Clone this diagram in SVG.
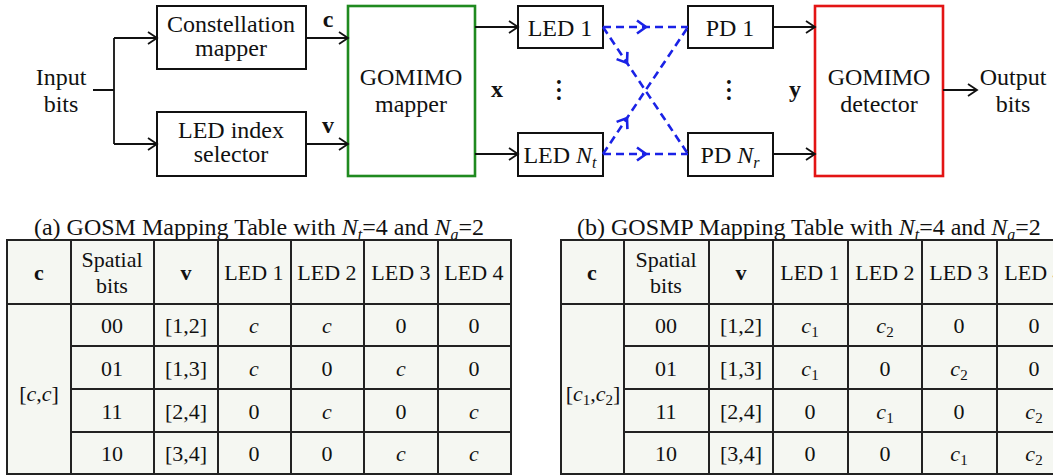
<svg xmlns="http://www.w3.org/2000/svg" width="1053" height="476" viewBox="0 0 1053 476">
<style>
text{fill:#111;}
.t{font-size:24px;text-anchor:middle;}
.tb{font-size:22px;text-anchor:middle;}
.b{font-weight:bold;}
.i{font-style:italic;}
.box{fill:#fff;stroke:#111;stroke-width:2;}
.ln{fill:none;stroke:#111;stroke-width:1.8;}
.arr{fill:none;stroke:#111;stroke-width:1.8;marker-end:url(#ah);}
.bl{fill:none;stroke:#1a22e6;stroke-width:2.6;stroke-dasharray:8 5;marker-mid:url(#bh);}
.tbl{fill:#f5f7f2;stroke:#222;stroke-width:2;}
.gl{fill:none;stroke:#222;stroke-width:2;}
</style>
<defs>
<marker id="ah" markerUnits="userSpaceOnUse" markerWidth="20" markerHeight="20" viewBox="-12 -10 14 20" refX="0" refY="0" orient="auto">
<path d="M-9,-6 L0,0 L-9,6" fill="none" stroke="#111" stroke-width="1.8"/>
</marker>
<marker id="bh" markerUnits="userSpaceOnUse" markerWidth="20" markerHeight="20" viewBox="-12 -10 14 20" refX="0" refY="0" orient="auto">
<path d="M-9,-6.5 L0,0 L-9,6.5" fill="none" stroke="#1a22e6" stroke-width="2.6"/>
</marker>
</defs>

<g id="input"><text style="font-family:'Liberation Serif',serif" class="t" x="61" y="85">Input</text><text style="font-family:'Liberation Serif',serif" class="t" x="61" y="112">bits</text></g>
<g id="constellation"><rect class="box" x="157" y="6" width="149" height="63"/><text style="font-family:'Liberation Serif',serif" class="t" x="231" y="32">Constellation</text><text style="font-family:'Liberation Serif',serif" class="t" x="231" y="56">mapper</text></g>
<g id="selector"><rect class="box" x="157" y="112" width="149" height="64"/><text style="font-family:'Liberation Serif',serif" class="t" x="231" y="138">LED index</text><text style="font-family:'Liberation Serif',serif" class="t" x="231" y="162">selector</text></g>
<g id="mapper"><rect x="348" y="6" width="127" height="170" fill="#fff" stroke="#1f8a1f" stroke-width="2.6"/><text style="font-family:'Liberation Serif',serif" class="t" x="411" y="85">GOMIMO</text><text style="font-family:'Liberation Serif',serif" class="t" x="411" y="112">mapper</text></g>
<g id="led1"><rect class="box" x="518" y="6" width="85" height="42"/><text style="font-family:'Liberation Serif',serif" class="t" x="560" y="36">LED 1</text></g>
<g id="ledNt"><rect class="box" x="518" y="133" width="85" height="43"/><text style="font-family:'Liberation Serif',serif" class="t" x="560" y="163">LED <tspan class="i">N</tspan><tspan class="i" font-size="16" dy="5">t</tspan></text></g>
<g id="pd1"><rect class="box" x="688" y="6" width="85" height="42"/><text style="font-family:'Liberation Serif',serif" class="t" x="730" y="36">PD 1</text></g>
<g id="pdNr"><rect class="box" x="688" y="133" width="85" height="43"/><text style="font-family:'Liberation Serif',serif" class="t" x="730" y="163">PD <tspan class="i">N</tspan><tspan class="i" font-size="16" dy="5">r</tspan></text></g>
<g id="detector"><rect x="815" y="6" width="128" height="170" fill="#fff" stroke="#e31414" stroke-width="2.6"/><text style="font-family:'Liberation Serif',serif" class="t" x="879" y="85">GOMIMO</text><text style="font-family:'Liberation Serif',serif" class="t" x="879" y="112">detector</text></g>
<g id="output"><text style="font-family:'Liberation Serif',serif" class="t" x="1013" y="85">Output</text><text style="font-family:'Liberation Serif',serif" class="t" x="1013" y="112">bits</text></g>

<g id="labels">
<text style="font-family:'Liberation Serif',serif" class="t b" x="328" y="27">c</text>
<text style="font-family:'Liberation Serif',serif" class="t b" x="328" y="133">v</text>
<text style="font-family:'Liberation Serif',serif" class="t b" x="497" y="97">x</text>
<text style="font-family:'Liberation Serif',serif" class="t b" x="795" y="97">y</text>
<text style="font-family:'Liberation Serif',serif" class="t b" transform="translate(557,90) rotate(90)" x="0" y="0">…</text>
<text style="font-family:'Liberation Serif',serif" class="t b" transform="translate(727,90) rotate(90)" x="0" y="0">…</text>
</g>

<g id="connectors">
<path class="ln" d="M93,90 H114 M114,38 V144"/>
<path class="arr" d="M114,38 H157"/>
<path class="arr" d="M114,144 H157"/>
<path class="arr" d="M306,38 H348"/>
<path class="arr" d="M306,144 H348"/>
<path class="arr" d="M475,27 H518"/>
<path class="arr" d="M475,154 H518"/>
<path class="arr" d="M773,27 H815"/>
<path class="arr" d="M773,154 H815"/>
<path class="arr" d="M943,90 H977"/>
<path class="bl" d="M603,27 L646,27 L688,27"/>
<path class="bl" d="M603,154 L646,154 L688,154"/>
<path class="bl" d="M603,27 L627,63 L688,154"/>
<path class="bl" d="M603,154 L627,118 L688,27"/>
</g>

<g id="tableA">
<text style="font-family:'Liberation Serif',serif" class="t" x="259" y="235">(a) GOSM Mapping Table with <tspan class="i">N</tspan><tspan class="i" font-size="16" dy="5">t</tspan><tspan dy="-5">=4 and </tspan><tspan class="i">N</tspan><tspan class="i" font-size="16" dy="5">a</tspan><tspan dy="-5">=2</tspan></text>
<rect class="tbl" x="7" y="240" width="504" height="234"/>
<path class="gl" d="M71,240 V474 M154,240 V474 M218,240 V474 M291,240 V474 M364,240 V474 M438,240 V474 M7,304 H511 M71,346 H511 M71,389 H511 M71,432 H511"/>
<text style="font-family:'Liberation Serif',serif" class="tb b" x="39" y="280">c</text>
<text style="font-family:'Liberation Serif',serif" class="tb" x="112" y="267">Spatial</text><text style="font-family:'Liberation Serif',serif" class="tb" x="112" y="293">bits</text>
<text style="font-family:'Liberation Serif',serif" class="tb b" x="186" y="280">v</text>
<text style="font-family:'Liberation Serif',serif" class="tb" x="254" y="280">LED 1</text><text style="font-family:'Liberation Serif',serif" class="tb" x="327" y="280">LED 2</text><text style="font-family:'Liberation Serif',serif" class="tb" x="401" y="280">LED 3</text><text style="font-family:'Liberation Serif',serif" class="tb" x="474" y="280">LED 4</text>
<text style="font-family:'Liberation Serif',serif" class="tb" x="39" y="401">[<tspan class="i">c</tspan>,<tspan class="i">c</tspan>]</text>
<text style="font-family:'Liberation Serif',serif" class="tb" x="112" y="333">00</text><text style="font-family:'Liberation Serif',serif" class="tb" x="186" y="333">[1,2]</text><text style="font-family:'Liberation Serif',serif" class="tb i" x="254" y="333">c</text><text style="font-family:'Liberation Serif',serif" class="tb i" x="327" y="333">c</text><text style="font-family:'Liberation Serif',serif" class="tb" x="401" y="333">0</text><text style="font-family:'Liberation Serif',serif" class="tb" x="474" y="333">0</text>
<text style="font-family:'Liberation Serif',serif" class="tb" x="112" y="376">01</text><text style="font-family:'Liberation Serif',serif" class="tb" x="186" y="376">[1,3]</text><text style="font-family:'Liberation Serif',serif" class="tb i" x="254" y="376">c</text><text style="font-family:'Liberation Serif',serif" class="tb" x="327" y="376">0</text><text style="font-family:'Liberation Serif',serif" class="tb i" x="401" y="376">c</text><text style="font-family:'Liberation Serif',serif" class="tb" x="474" y="376">0</text>
<text style="font-family:'Liberation Serif',serif" class="tb" x="112" y="419">11</text><text style="font-family:'Liberation Serif',serif" class="tb" x="186" y="419">[2,4]</text><text style="font-family:'Liberation Serif',serif" class="tb" x="254" y="419">0</text><text style="font-family:'Liberation Serif',serif" class="tb i" x="327" y="419">c</text><text style="font-family:'Liberation Serif',serif" class="tb" x="401" y="419">0</text><text style="font-family:'Liberation Serif',serif" class="tb i" x="474" y="419">c</text>
<text style="font-family:'Liberation Serif',serif" class="tb" x="112" y="461">10</text><text style="font-family:'Liberation Serif',serif" class="tb" x="186" y="461">[3,4]</text><text style="font-family:'Liberation Serif',serif" class="tb" x="254" y="461">0</text><text style="font-family:'Liberation Serif',serif" class="tb" x="327" y="461">0</text><text style="font-family:'Liberation Serif',serif" class="tb i" x="401" y="461">c</text><text style="font-family:'Liberation Serif',serif" class="tb i" x="474" y="461">c</text>
</g>

<g id="tableB">
<text style="font-family:'Liberation Serif',serif" x="577" y="235" font-size="24">(b) GOSMP Mapping Table with <tspan class="i">N</tspan><tspan class="i" font-size="16" dy="5">t</tspan><tspan dy="-5">=4 and </tspan><tspan class="i">N</tspan><tspan class="i" font-size="16" dy="5">a</tspan><tspan dy="-5">=2</tspan></text>
<rect class="tbl" x="561" y="240" width="510" height="234"/>
<path class="gl" d="M624,240 V474 M709,240 V474 M773,240 V474 M848,240 V474 M922,240 V474 M997,240 V474 M561,304 H1071 M624,346 H1071 M624,389 H1071 M624,432 H1071"/>
<text style="font-family:'Liberation Serif',serif" class="tb b" x="592" y="280">c</text>
<text style="font-family:'Liberation Serif',serif" class="tb" x="666" y="267">Spatial</text><text style="font-family:'Liberation Serif',serif" class="tb" x="666" y="293">bits</text>
<text style="font-family:'Liberation Serif',serif" class="tb b" x="741" y="280">v</text>
<text style="font-family:'Liberation Serif',serif" class="tb" x="810" y="280">LED 1</text><text style="font-family:'Liberation Serif',serif" class="tb" x="885" y="280">LED 2</text><text style="font-family:'Liberation Serif',serif" class="tb" x="959" y="280">LED 3</text><text style="font-family:'Liberation Serif',serif" class="tb" x="1034" y="280">LED 4</text>
<text style="font-family:'Liberation Serif',serif" class="tb" x="593" y="401">[<tspan class="i">c</tspan><tspan font-size="15" dy="4">1</tspan><tspan dy="-4">,</tspan><tspan class="i">c</tspan><tspan font-size="15" dy="4">2</tspan><tspan dy="-4">]</tspan></text>
<text style="font-family:'Liberation Serif',serif" class="tb" x="666" y="333">00</text><text style="font-family:'Liberation Serif',serif" class="tb" x="741" y="333">[1,2]</text><text style="font-family:'Liberation Serif',serif" class="tb" x="810" y="333"><tspan class="i">c</tspan><tspan font-size="15" dy="4">1</tspan></text><text style="font-family:'Liberation Serif',serif" class="tb" x="885" y="333"><tspan class="i">c</tspan><tspan font-size="15" dy="4">2</tspan></text><text style="font-family:'Liberation Serif',serif" class="tb" x="959" y="333">0</text><text style="font-family:'Liberation Serif',serif" class="tb" x="1034" y="333">0</text>
<text style="font-family:'Liberation Serif',serif" class="tb" x="666" y="376">01</text><text style="font-family:'Liberation Serif',serif" class="tb" x="741" y="376">[1,3]</text><text style="font-family:'Liberation Serif',serif" class="tb" x="810" y="376"><tspan class="i">c</tspan><tspan font-size="15" dy="4">1</tspan></text><text style="font-family:'Liberation Serif',serif" class="tb" x="885" y="376">0</text><text style="font-family:'Liberation Serif',serif" class="tb" x="959" y="376"><tspan class="i">c</tspan><tspan font-size="15" dy="4">2</tspan></text><text style="font-family:'Liberation Serif',serif" class="tb" x="1034" y="376">0</text>
<text style="font-family:'Liberation Serif',serif" class="tb" x="666" y="419">11</text><text style="font-family:'Liberation Serif',serif" class="tb" x="741" y="419">[2,4]</text><text style="font-family:'Liberation Serif',serif" class="tb" x="810" y="419">0</text><text style="font-family:'Liberation Serif',serif" class="tb" x="885" y="419"><tspan class="i">c</tspan><tspan font-size="15" dy="4">1</tspan></text><text style="font-family:'Liberation Serif',serif" class="tb" x="959" y="419">0</text><text style="font-family:'Liberation Serif',serif" class="tb" x="1034" y="419"><tspan class="i">c</tspan><tspan font-size="15" dy="4">2</tspan></text>
<text style="font-family:'Liberation Serif',serif" class="tb" x="666" y="461">10</text><text style="font-family:'Liberation Serif',serif" class="tb" x="741" y="461">[3,4]</text><text style="font-family:'Liberation Serif',serif" class="tb" x="810" y="461">0</text><text style="font-family:'Liberation Serif',serif" class="tb" x="885" y="461">0</text><text style="font-family:'Liberation Serif',serif" class="tb" x="959" y="461"><tspan class="i">c</tspan><tspan font-size="15" dy="4">1</tspan></text><text style="font-family:'Liberation Serif',serif" class="tb" x="1034" y="461"><tspan class="i">c</tspan><tspan font-size="15" dy="4">2</tspan></text>
</g>
</svg>
